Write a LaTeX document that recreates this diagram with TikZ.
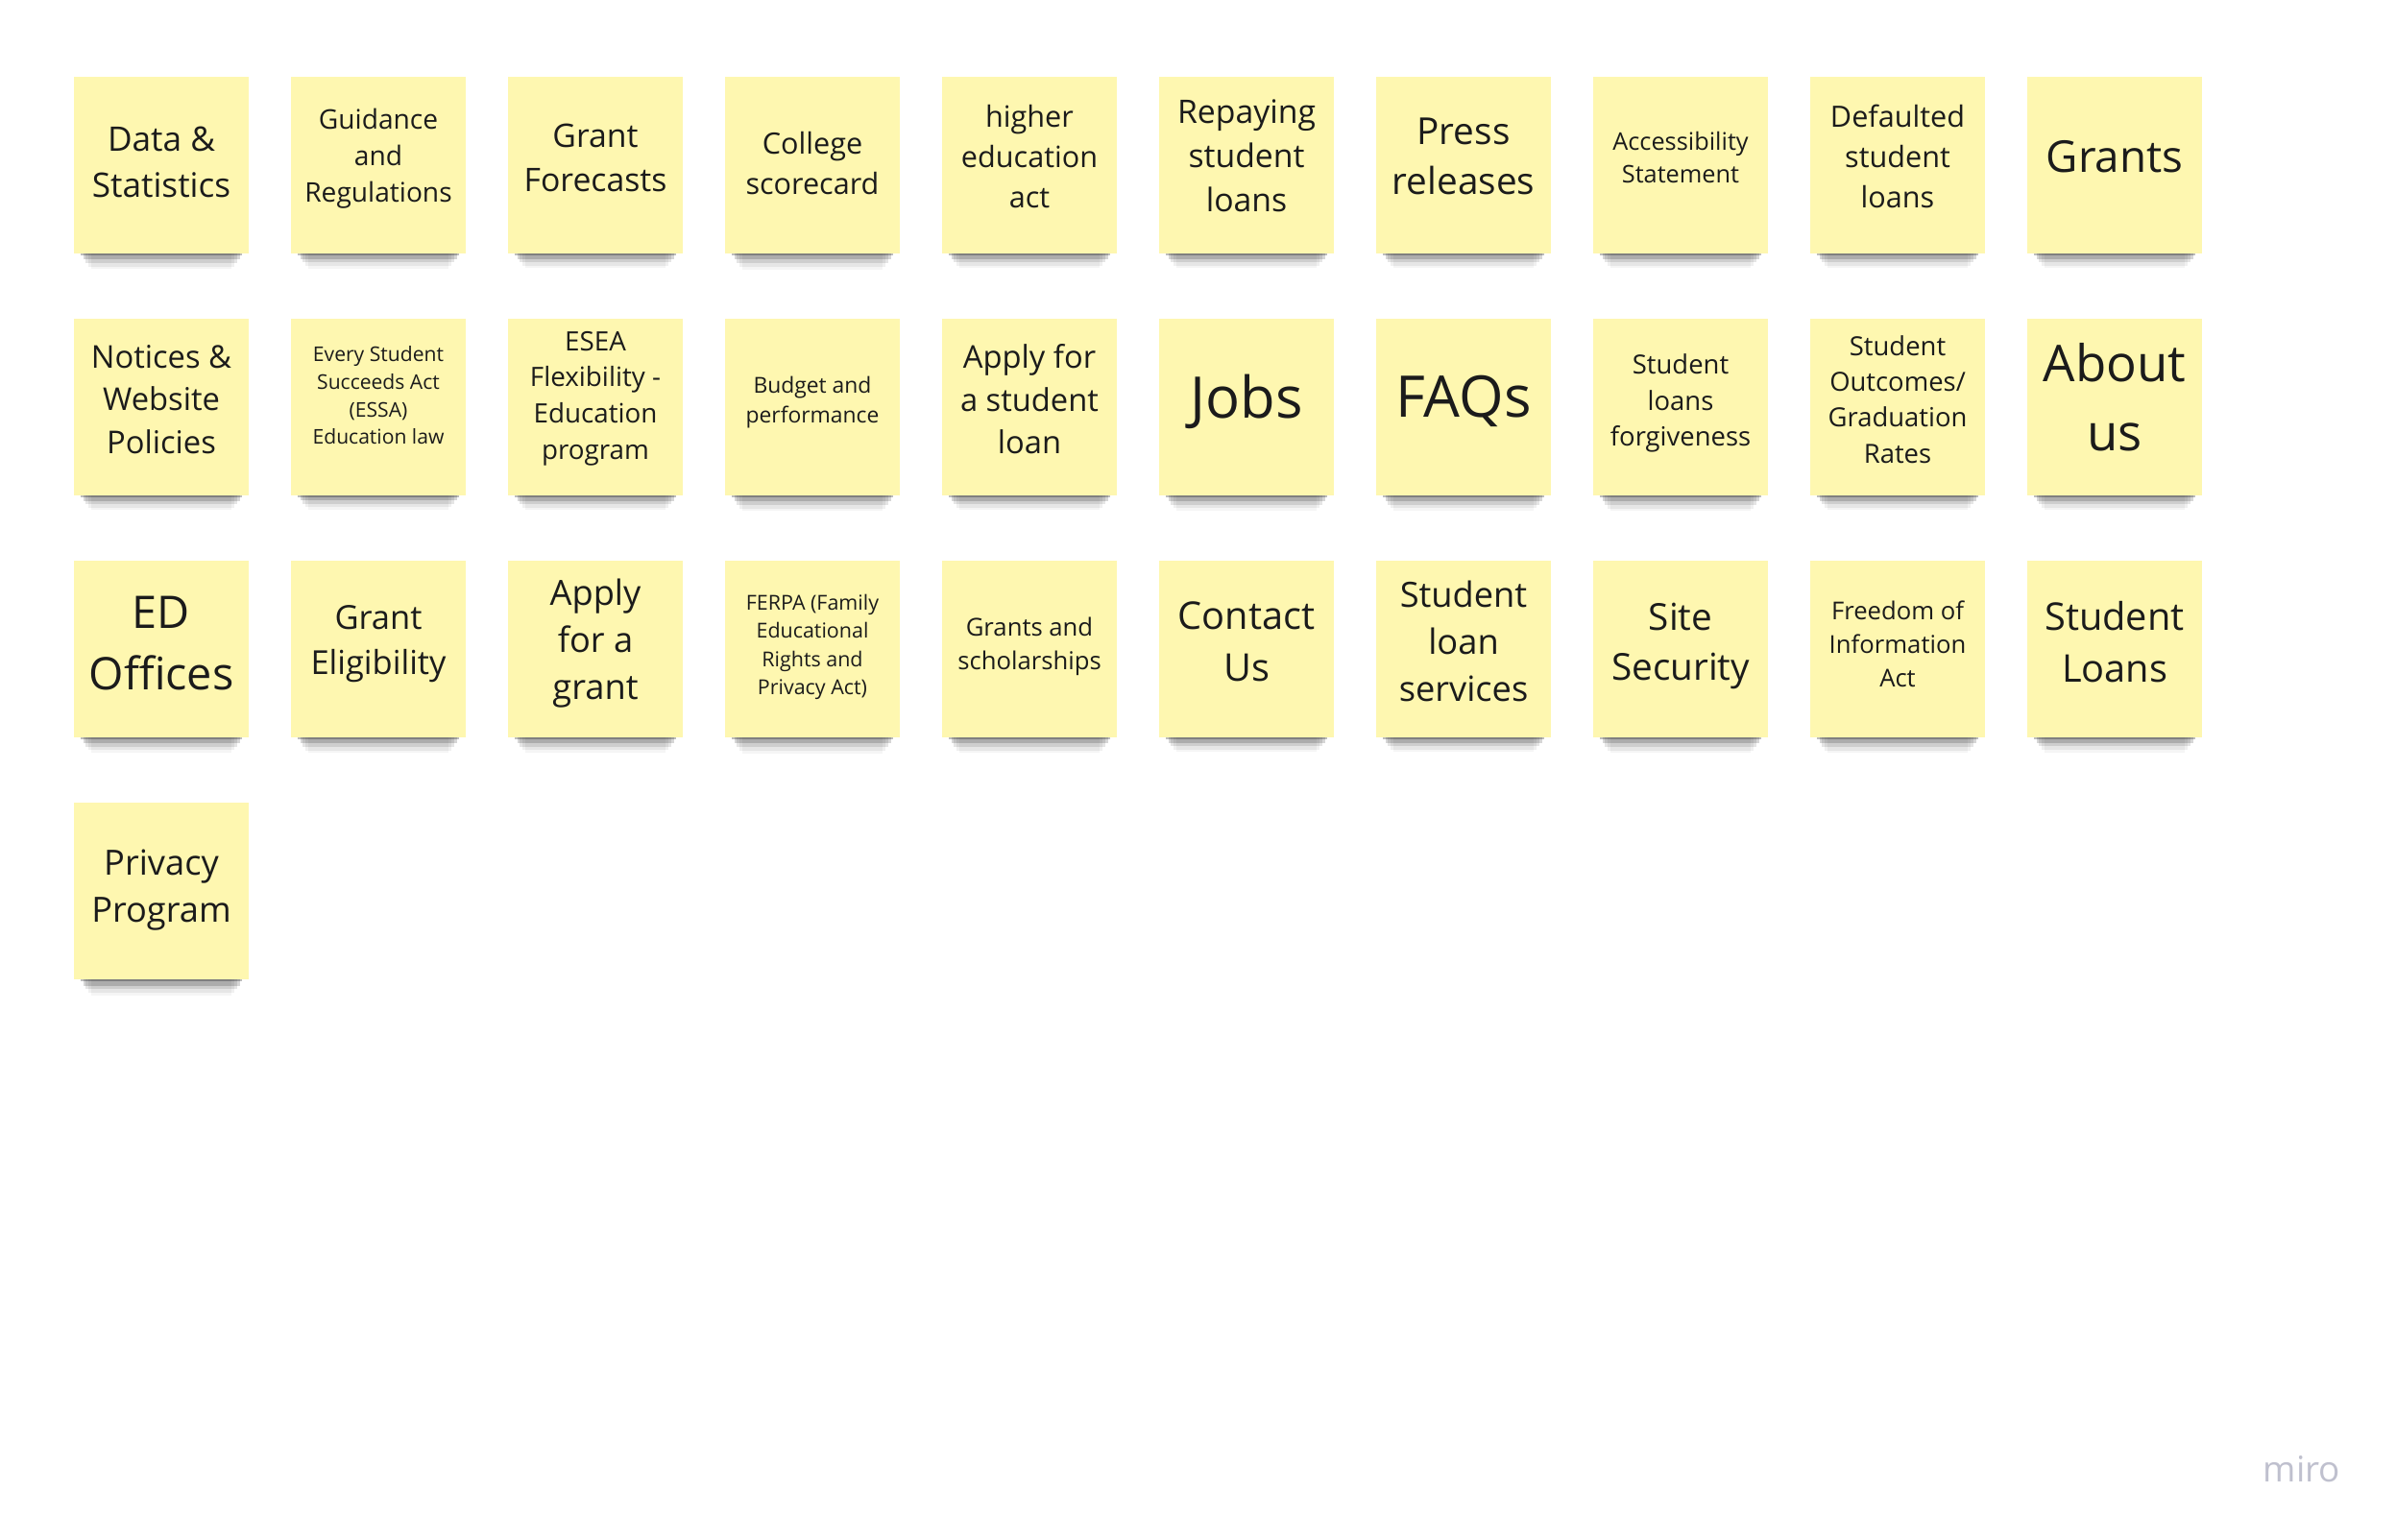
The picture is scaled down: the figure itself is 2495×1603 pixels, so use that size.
\documentclass[tikz,border=0pt]{standalone}
\usepackage{fontspec}
\setmainfont{Open Sans}
\usetikzlibrary{shadows}
\definecolor{notefill}{HTML}{FEF7B0}
\definecolor{notetext}{HTML}{1B1B1B}
\definecolor{logogray}{HTML}{BFC0CE}
\newcommand\fs[1]{\fontsize{#1}{\dimexpr#1pt*136/100\relax}\selectfont}

\begin{document}
\begin{tikzpicture}[x=0.01cm,y=-0.01cm,
	note/.style={text=notetext,align=center,inner sep=0pt,
		minimum width=1.81cm,minimum height=1.83cm,yshift=#1,
		general shadow={fill=black,opacity=.04,shadow yshift=-0.43cm-#1,shadow scale=.81},
		general shadow={fill=black,opacity=.06,shadow yshift=-0.35cm-#1,shadow scale=.84},
		general shadow={fill=black,opacity=.10,shadow yshift=-0.26cm-#1,shadow scale=.87},
		general shadow={fill=black,opacity=.16,shadow yshift=-0.18cm-#1,shadow scale=.90},
		general shadow={fill=black,opacity=.26,shadow yshift=-0.10cm-#1,shadow scale=.93},
		general shadow={fill=notefill,shadow yshift=-#1}},
	note/.default=0.08cm]
		\useasboundingbox[fill=white] (0,0) rectangle (2495,1603);
		% row 1
		\node[note=0.03cm,font=\fs{10}] (data) at (168,172) {Data \&\\Statistics};
		\node[note=0.07cm,font=\fs{8}] (guidance) at (394,172) {Guidance\\and\\Regulations};
		\node[note,font=\fs{9.6}] (forecasts) at (620,172) {Grant\\Forecasts};
		\node[note=0.02cm,font=\fs{8.7}] (scorecard) at (846,172) {College\\scorecard};
		\node[note=0.09cm,font=\fs{8.7}] (hea) at (1072,172) {higher\\education\\act};
		\node[note=0.10cm,font=\fs{9.6}] (repaying) at (1298,172) {Repaying\\student\\loans};
		\node[note=0.09cm,font=\fs{11}] (press) at (1524,172) {Press\\releases};
		\node[note,font=\fs{7.2}] (access) at (1750,172) {Accessibility\\Statement};
		\node[note=0.09cm,font=\fs{8.7}] (defaulted) at (1976,172) {Defaulted\\student\\loans};
		\node[note=0.09cm,font=\fs{13}] (grants) at (2202,172) {Grants};
		% row 2
		\node[note,font=\fs{9.3}] (notices) at (168,424) {Notices \&\\Website\\Policies};
		\node[note=0.12cm,font=\fs{6}] (essa) at (394,424) {Every Student\\Succeeds Act\\(ESSA)\\Education law};
		\node[note=0.09cm,font=\fs{7.9}] (esea) at (620,424) {ESEA\\Flexibility -\\Education\\program};
		\node[note=0.05cm,font=\fs{6.5}] (budget) at (846,424) {Budget and\\performance};
		\node[note,font=\fs{9.3}] (applyloan) at (1072,424) {Apply for\\a student\\loan};
		\node[note=0.06cm,font=\fs{17}] (jobs) at (1298,424) {Jobs};
		\node[note=0.06cm,font=\fs{17}] (faqs) at (1524,424) {FAQs};
		\node[note=0.04cm,font=\fs{7.8}] (forgive) at (1750,424) {Student\\loans\\forgiveness};
		\node[note,font=\fs{7.8}] (outcomes) at (1976,424) {Student\\Outcomes/\\Graduation\\Rates};
		\node[note=0.10cm,font=\fs{15}] (about) at (2202,424) {About\\us};
		% row 3
		\node[note=0.06cm,font=\fs{13.3}] (offices) at (168,676) {ED\\Offices};
		\node[note=0.05cm,font=\fs{9.8}] (eligibility) at (394,676) {Grant\\Eligibility};
		\node[note=0.06cm,font=\fs{10.3}] (applygrant) at (620,676) {Apply\\for a\\grant};
		\node[note=0.02cm,font=\fs{6.1}] (ferpa) at (846,676) {FERPA (Family\\Educational\\Rights and\\Privacy Act)};
		\node[note=0.03cm,font=\fs{7.3}] (scholar) at (1072,676) {Grants and\\scholarships};
		\node[note,font=\fs{11.3}] (contact) at (1298,676) {Contact\\Us};
		\node[note,font=\fs{10.3}] (services) at (1524,676) {Student\\loan\\services};
		\node[note=0.03cm,font=\fs{11}] (security) at (1750,676) {Site\\Security};
		\node[note=0.05cm,font=\fs{7.3}] (foia) at (1976,676) {Freedom of\\Information\\Act};
		\node[note=0.07cm,font=\fs{11.3}] (loans) at (2202,676) {Student\\Loans};
		% row 4
		\node[note=0.01cm,font=\fs{10.3}] (privacy) at (168,928) {Privacy\\Program};
		% logo
		\node[text=logogray,font=\fs{10.5}] (miro) at (2397,1530) {miro};
	\end{tikzpicture}
\end{document}
